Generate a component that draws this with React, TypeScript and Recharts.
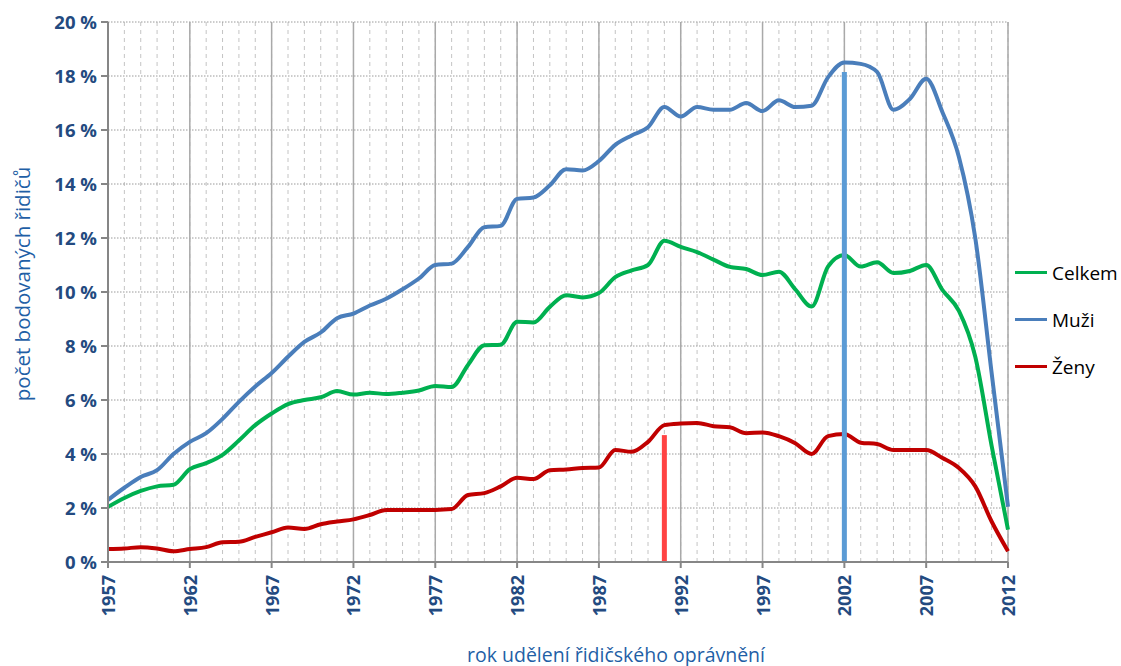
import React from 'react'
import {
  LineChart,
  Line,
  XAxis,
  YAxis,
  CartesianGrid,
  ReferenceLine,
} from 'recharts'

// rok udělení řidičského oprávnění
const years = [
  1957, 1958, 1959, 1960, 1961, 1962, 1963, 1964, 1965, 1966,
  1967, 1968, 1969, 1970, 1971, 1972, 1973, 1974, 1975, 1976,
  1977, 1978, 1979, 1980, 1981, 1982, 1983, 1984, 1985, 1986,
  1987, 1988, 1989, 1990, 1991, 1992, 1993, 1994, 1995, 1996,
  1997, 1998, 1999, 2000, 2001, 2002, 2003, 2004, 2005, 2006,
  2007, 2008, 2009, 2010, 2011, 2012,
]

const tickYears = [1957, 1962, 1967, 1972, 1977, 1982, 1987, 1992, 1997, 2002, 2007, 2012]
const yTicks = [0, 2, 4, 6, 8, 10, 12, 14, 16, 18, 20]

// % bodovaných řidičů
const celkem = [
  2.04, 2.37, 2.63, 2.8, 2.86, 3.44, 3.66, 3.97, 4.5, 5.07,
  5.5, 5.85, 6.0, 6.1, 6.33, 6.2, 6.27, 6.22, 6.27, 6.35,
  6.52, 6.48, 7.3, 8.03, 8.05, 8.9, 8.87, 9.45, 9.88, 9.8,
  9.96, 10.55, 10.8, 11.0, 11.9, 11.67, 11.48, 11.2, 10.93, 10.85,
  10.63, 10.75, 10.1, 9.46, 10.94, 11.37, 10.94, 11.1, 10.7, 10.78,
  11.0, 10.07, 9.3, 7.6, 4.3, 1.2,
]

const muzi = [
  2.3, 2.75, 3.15, 3.4, 4.0, 4.45, 4.77, 5.3, 5.93, 6.5,
  7.0, 7.6, 8.15, 8.5, 9.03, 9.2, 9.5, 9.75, 10.1, 10.5,
  11.0, 11.05, 11.67, 12.4, 12.45, 13.45, 13.5, 13.95, 14.55, 14.5,
  14.85, 15.45, 15.8, 16.1, 16.85, 16.5, 16.85, 16.75, 16.75, 17.0,
  16.7, 17.1, 16.85, 16.9, 17.95, 18.5, 18.45, 18.15, 16.75, 17.15,
  17.9, 16.65, 15.0, 12.0, 7.0, 2.05,
]

const zeny = [
  0.48, 0.5, 0.55, 0.5, 0.4, 0.48, 0.55, 0.73, 0.75, 0.93,
  1.1, 1.28, 1.22, 1.4, 1.5, 1.58, 1.74, 1.93, 1.93, 1.93,
  1.93, 1.96, 2.48, 2.55, 2.8, 3.12, 3.07, 3.4, 3.43, 3.48,
  3.5, 4.15, 4.08, 4.45, 5.07, 5.13, 5.15, 5.03, 4.99, 4.77,
  4.8, 4.66, 4.4, 4.0, 4.66, 4.74, 4.42, 4.37, 4.15, 4.15,
  4.15, 3.85, 3.48, 2.8, 1.5, 0.4,
]

// svislé značky: [rok, výška v %]
const zenyMarker = [1991, 4.7]
const muziMarker = [2002, 18.15]

const series = [
  { key: 'celkem', name: 'Celkem', color: '#00b050' },
  { key: 'muzi', name: 'Muži', color: '#4a7ebb' },
  { key: 'zeny', name: 'Ženy', color: '#c00000' },
]

const data = years.map((rok, i) => ({
  rok,
  celkem: celkem[i],
  muzi: muzi[i],
  zeny: zeny[i],
}))

const AXIS_BLUE = '#234a80'
const TITLE_BLUE = '#1f5fa6'
const FONT = '"Open Sans", "DejaVu Sans", sans-serif'

const YearTick = (props: any) => {
  const { x, y, payload } = props
  return (
    <text
      x={x}
      y={y}
      transform={`rotate(-90, ${x}, ${y})`}
      textAnchor="end"
      dominantBaseline="central"
      fill={AXIS_BLUE}
      fontSize={18}
      fontWeight={700}
      fontFamily={FONT}
    >
      {payload.value}
    </text>
  )
}

export default function App() {
  return (
    <div
      style={{
        position: 'absolute',
        left: 0,
        top: 0,
        width: 1121,
        height: 666,
        background: '#fff',
        fontFamily: FONT,
      }}
    >
      <LineChart
        width={1121}
        height={666}
        data={data}
        margin={{ top: 22, right: 113, bottom: 0, left: 0 }}
      >
        <CartesianGrid
          horizontal={false}
          verticalValues={years}
          stroke="#c4c4c4"
          strokeDasharray="4 4"
          strokeWidth={1}
        />
        <CartesianGrid
          vertical={false}
          horizontalValues={yTicks}
          stroke="#9a9a9a"
          strokeDasharray="1.5 1.5"
          strokeWidth={1}
        />
        {tickYears.map((yr) => (
          <ReferenceLine key={yr} x={yr} stroke="#a9a9a9" strokeWidth={1.5} />
        ))}
        <XAxis
          dataKey="rok"
          type="number"
          domain={[1957, 2012]}
          ticks={tickYears}
          interval={0}
          height={104}
          stroke="#868686"
          strokeWidth={2}
          tickSize={6}
          tickMargin={7}
          tick={<YearTick />}
        />
        <YAxis
          domain={[0, 20]}
          ticks={yTicks}
          width={108}
          stroke="#868686"
          strokeWidth={2}
          tickSize={7}
          tickMargin={4}
          tickFormatter={(v: number) => `${v} %`}
          tick={{ fill: AXIS_BLUE, fontSize: 18.5, fontWeight: 700, fontFamily: FONT }}
        />
        {series.map((s) => (
          <Line
            key={s.key}
            name={s.name}
            type="monotone"
            dataKey={s.key}
            stroke={s.color}
            strokeWidth={4}
            dot={false}
            isAnimationActive={false}
          />
        ))}
        <ReferenceLine
          segment={[
            { x: zenyMarker[0], y: 0 },
            { x: zenyMarker[0], y: zenyMarker[1] },
          ]}
          stroke="#ff4343"
          strokeWidth={5}
        />
        <ReferenceLine
          segment={[
            { x: muziMarker[0], y: 0 },
            { x: muziMarker[0], y: muziMarker[1] },
          ]}
          stroke="#5b9bd5"
          strokeWidth={5}
        />
      </LineChart>

      {/* legenda */}
      <div style={{ position: 'absolute', left: 1015, top: 249 }}>
        {series.map((s) => (
          <div key={s.key} style={{ display: 'flex', alignItems: 'center', height: 47 }}>
            <span
              style={{
                display: 'inline-block',
                width: 32,
                height: 3,
                background: s.color,
                marginRight: 5,
              }}
            />
            <span style={{ fontSize: 19, color: '#000' }}>{s.name}</span>
          </div>
        ))}
      </div>

      <div
        style={{
          position: 'absolute',
          left: 22,
          top: 284,
          transform: 'translate(-50%, -50%) rotate(-90deg)',
          whiteSpace: 'nowrap',
          fontSize: 20.5,
          color: TITLE_BLUE,
        }}
      >
        počet bodovaných řidičů
      </div>
      <div
        style={{
          position: 'absolute',
          left: 616,
          top: 654,
          transform: 'translate(-50%, -50%)',
          whiteSpace: 'nowrap',
          fontSize: 19.5,
          color: TITLE_BLUE,
        }}
      >
        rok udělení řidičského oprávnění
      </div>
    </div>
  )
}
